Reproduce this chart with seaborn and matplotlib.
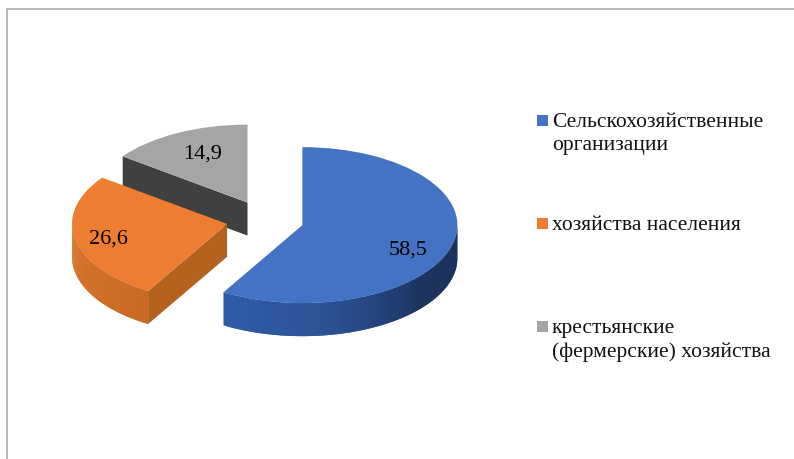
import numpy as np
import matplotlib
matplotlib.use('Agg')
import matplotlib.pyplot as plt
from matplotlib.lines import Line2D
from matplotlib.patches import Rectangle
import seaborn as sns

categories = ['Сельскохозяйственные\nорганизации', 'хозяйства населения',
              'крестьянские\n(фермерские) хозяйства']
values = [58.5, 26.6, 14.9]
explode = [0.25, 0.25, 0.25]
top_colors = ['#4472c4', '#ed7d31', '#a5a5a5']
wall_colors = [['#2f5ca8', '#2b5296', '#1c345f', '#1a3058'],
               ['#d9752a', '#c96a25'],
               ['#6d6d6d', '#555555']]
# side wall along the cut, the blue slice shows none
cut_colors = [None, '#b5621f', '#404040']

# pixel layout of the picture
W, H = 794, 459
CX, CY = 265, 220
RX, RY = 155, 78
DEPTH = 33 / RY

sns.set_theme(style='white')
plt.rcParams['font.family'] = ['Liberation Serif', 'DejaVu Serif']

fig = plt.figure(figsize=(W / 100, H / 100), dpi=100)
ax = fig.add_axes([0, 0, 1, 1])
wedges, _ = ax.pie(values, explode=explode, colors=top_colors, startangle=90,
                   counterclock=False, wedgeprops={'linewidth': 0})
ax.set_aspect('auto')
ax.set_xlim(-CX / RX, (W - CX) / RX)
ax.set_ylim((CY - H) / RY, CY / RY)
ax.axis('off')

for i, w in enumerate(wedges):
    base_z = 2 * (3 - i)
    w.set_zorder(base_z + 1)
    cx, cy = w.center

    # outer wall, only the front half of the rim can be seen
    t0, t1 = max(w.theta1, -180), min(w.theta2, 0)
    if t1 > t0:
        n = 80
        edges = np.radians(np.linspace(t0, t1, n + 1))
        shades = sns.blend_palette(wall_colors[i], n)
        for k in range(n):
            # each strip runs under the next one, so no seams show
            xs = cx + w.r * np.cos(edges[k:k + 3])
            ys = cy + w.r * np.sin(edges[k:k + 3])
            ax.fill(np.r_[xs, xs[::-1]], np.r_[ys, ys[::-1] - DEPTH],
                    color=shades[k], lw=0, zorder=base_z)

    if cut_colors[i]:
        a = np.radians(w.theta2)
        ex, ey = cx + w.r * np.cos(a), cy + w.r * np.sin(a)
        ax.fill([cx, ex, ex, cx], [cy, ey, ey - DEPTH, cy - DEPTH],
                color=cut_colors[i], lw=0, zorder=base_z)

# value labels
label_pos = [(408, 250), (108, 239), (203, 154)]
for v, (px, py) in zip(values, label_pos):
    fig.text(px / W, 1 - py / H, f'{v:.1f}'.replace('.', ','), fontsize=16,
             color='black', ha='center', va='center', zorder=20)

# legend
legend_y = [120, 223, 326]
for cat, col, py in zip(categories, top_colors, legend_y):
    fig.add_artist(Rectangle((537 / W, 1 - (py + 5.5) / H), 11 / W, 11 / H,
                             transform=fig.transFigure, color=col, lw=0))
    fig.text(552 / W, 1 - (py - 7) / H, cat, fontsize=15.5, color='#111111',
             ha='left', va='top', linespacing=1.28)

# outer frame, cut by the right and bottom of the picture
fig.add_artist(Line2D([6.5 / W, 6.5 / W, 1], [0, 1 - 9 / H, 1 - 9 / H],
                      transform=fig.transFigure, color='#a6a6a6', lw=1.1))

fig.savefig('out.png', dpi=100)
